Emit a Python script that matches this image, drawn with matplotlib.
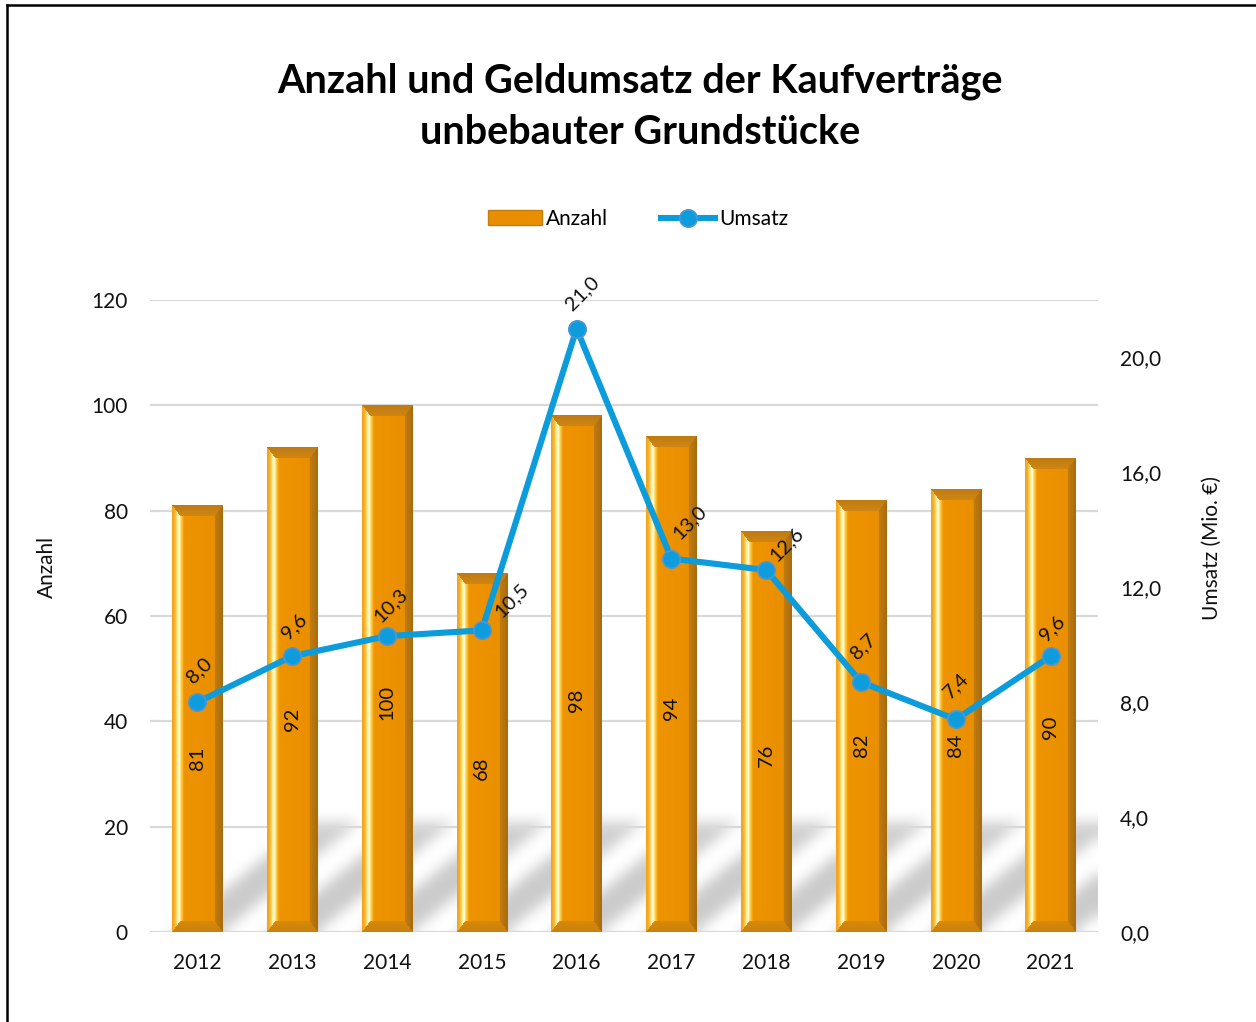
import numpy as np
import matplotlib
matplotlib.use('Agg')
import matplotlib.pyplot as plt
from matplotlib.colors import to_rgb
from matplotlib.lines import Line2D
from matplotlib.patches import Patch

# ---------------- data ----------------
years = ['2012', '2013', '2014', '2015', '2016', '2017', '2018', '2019', '2020', '2021']
anzahl = [81, 92, 100, 68, 98, 94, 76, 82, 84, 90]
umsatz = [8.0, 9.6, 10.3, 10.5, 21.0, 13.0, 12.6, 8.7, 7.4, 9.6]
left_ticks = [0, 20, 40, 60, 80, 100, 120]
right_ticks = [0, 4, 8, 12, 16, 20]
title_lines = ['Anzahl und Geldumsatz der Kaufverträge', 'unbebauter Grundstücke']

# label nudges (pixels) for the line labels, layout only
line_label_dx = [2, 2, 4, 30, 6, 18, 20, 2, 0, 2]
line_label_dy = [32, 30, 31, 30, 35, 36, 26, 36, 34, 28]
bar_label_dy = [-40, -30, -34, -15, -26, -24, -23, -29, -34, -32]

plt.rcParams['font.family'] = ['Lato', 'DejaVu Sans']

W, H = 1256, 1022
fig = plt.figure(figsize=(W / 100, H / 100), dpi=100)
ax = fig.add_axes([150 / W, 1 - 932 / H, 948 / W, 632 / H])
ax2 = ax.twinx()

x = np.arange(len(years))
ax.set_xlim(-0.5, len(years) - 0.5)
ax.set_ylim(0, 120)
ax2.set_ylim(0, 22)

BAR_ORANGE = '#E98E00'
LINE_BLUE = '#0C9CDB'
TXT = '#111111'

# gridlines
ax.set_yticks(left_ticks)
ax.yaxis.grid(True, color='#D9D9D9', linewidth=1.6, zorder=0)
ax.set_axisbelow(True)
for s in ax.spines.values():
    s.set_visible(False)
for s in ax2.spines.values():
    s.set_visible(False)
ax.axhline(0, color='#D9D9D9', linewidth=1.8, zorder=1)

# ---------------- shadows (decoration derived from bar geometry) ----------------
bw = 0.53
shadow_top = 21.0
shift = 1.45
nx, ny = 948, 130
xs = np.linspace(-0.5, len(years) - 0.5, nx)
ys = np.linspace(0, 24.5, ny)
XX, YY = np.meshgrid(xs, ys)
mask = np.zeros_like(XX)
for xi in x:
    off = YY / shadow_top * shift
    inside = (YY <= shadow_top) & (XX >= xi - bw / 2 + off) & (XX <= xi + bw / 2 + off)
    mask = np.maximum(mask, inside.astype(float))


def box_blur(a, r):
    k = np.ones(2 * r + 1) / (2 * r + 1)
    a = np.apply_along_axis(lambda v: np.convolve(np.pad(v, r, mode='edge'), k, mode='valid'), 0, a)
    a = np.apply_along_axis(lambda v: np.convolve(np.pad(v, r, mode='edge'), k, mode='valid'), 1, a)
    return a

for _ in range(2):
    mask = box_blur(mask, 7)
fade = np.clip(1 - (YY / shadow_top) ** 6 * 0.2, 0, 1)
rgba = np.zeros((ny, nx, 4))
rgba[..., :3] = 0.72
rgba[..., 3] = mask * 0.72 * fade
ax.imshow(rgba, extent=(-0.5, len(years) - 0.5, 0, 24.5), origin='lower',
          aspect='auto', zorder=0.5, interpolation='bilinear')

# ---------------- bars ----------------
bars = ax.bar(x, anzahl, width=bw, color=BAR_ORANGE, zorder=2, linewidth=0)
ax.set_xlim(-0.5, len(years) - 0.5)
ax.set_ylim(0, 120)


def interp_colors(f, stops):
    pos = [p for p, _ in stops]
    cols = np.array([to_rgb(c) for _, c in stops])
    return np.stack([np.interp(f, pos, cols[:, k]) for k in range(3)], axis=-1)


left_profile = [(0.0, '#F0A01E'), (0.06, '#F9B42C'), (0.11, '#FFF09A'),
                (0.145, '#FFFFE2'), (0.18, '#FFD046'), (0.24, '#EE9300'), (1.0, '#E98E00')]
right_profile = [(0.0, '#C47D10'), (1.0, '#A86B0C')]


def bar_image(wpx, hpx):
    wpx = max(int(round(wpx)), 4)
    hpx = max(int(round(hpx)), 4)
    J, I = np.meshgrid(np.arange(wpx) + 0.5, np.arange(hpx) + 0.5)
    f = J / wpx
    img = interp_colors(f, left_profile)
    bs = 0.165 * wpx
    bt = 11.0
    dl = J / bs
    dr = (wpx - J) / bs
    dt = I / bt
    db = (hpx - I) / bt
    d = np.stack([dl, dr, dt, db])
    amin = np.argmin(d, axis=0)
    inb = d.min(axis=0) < 1
    rr = interp_colors(np.clip((J - (wpx - bs)) / bs, 0, 1), right_profile)
    top = interp_colors(np.clip(I / bt, 0, 1), [(0.0, '#C07A12'), (1.0, '#CE8614')])
    bot = interp_colors(np.clip((hpx - I) / bt, 0, 1), [(0.0, '#C88010'), (1.0, '#D88A06')])
    img = np.where((inb & (amin == 1))[..., None], rr, img)
    img = np.where((inb & (amin == 2))[..., None], top, img)
    img = np.where((inb & (amin == 3))[..., None], bot, img)
    return img


for p in bars.patches:
    x0, x1 = p.get_x(), p.get_x() + p.get_width()
    h = p.get_height()
    (px0, py0), (px1, py1) = ax.transData.transform([(x0, 0), (x1, h)])
    img = bar_image(px1 - px0, py1 - py0)
    ax.imshow(img, extent=(x0, x1, 0, h), origin='upper', aspect='auto',
              zorder=2.1, interpolation='bilinear')
ax.set_xlim(-0.5, len(years) - 0.5)
ax.set_ylim(0, 120)

# bar value labels
for xi, v, dy in zip(x, anzahl, bar_label_dy):
    ax.annotate(str(v), (xi, v / 2), xytext=(0, dy * 0.72), textcoords='offset points',
                rotation=90, ha='center', va='center', fontsize=14.5, color=TXT, zorder=3)

# ---------------- line ----------------
ax2.plot(x, umsatz, color=LINE_BLUE, linewidth=4.4, marker='o', markersize=12.5,
         markerfacecolor='#0E9CDC', markeredgecolor='#4C97D6', markeredgewidth=1.2,
         zorder=5, solid_capstyle='round')
for xi, v, dx, dy in zip(x, umsatz, line_label_dx, line_label_dy):
    ax2.annotate(f'{v:.1f}'.replace('.', ','), (xi, v), xytext=(dx * 0.72, dy * 0.72),
                 textcoords='offset points', rotation=45, ha='center', va='center',
                 fontsize=14.5, color=TXT, zorder=6)

# ---------------- ticks ----------------
ax.set_xticks(x)
ax.set_xticklabels(years)
ax.tick_params(axis='x', length=0, pad=15, labelsize=15, labelcolor=TXT)
ax.tick_params(axis='y', length=0, pad=16, labelsize=15, labelcolor=TXT)
ax.set_yticklabels([str(t) for t in left_ticks])
ax2.set_yticks(right_ticks)
ax2.set_yticklabels([f'{t:.1f}'.replace('.', ',') for t in right_ticks])
ax2.tick_params(axis='y', length=0, pad=16, labelsize=15, labelcolor=TXT)
ax2.set_ylim(0, 22)

fig.text(47 / W, 1 - 567 / H, 'Anzahl', rotation=90, ha='center', va='center',
         fontsize=15, color=TXT)
fig.text(1212 / W, 1 - 548 / H, 'Umsatz (Mio. €)', rotation=90, ha='center', va='center',
         fontsize=15, color=TXT)

# ---------------- title ----------------
fig.text(640 / W, 1 - 81 / H, title_lines[0], ha='center', va='center',
         fontsize=28.5, fontweight='bold', color='#000000')
fig.text(640 / W, 1 - 133 / H, title_lines[1], ha='center', va='center',
         fontsize=28.5, fontweight='bold', color='#000000')

# ---------------- legend ----------------
h_bar = Patch(facecolor=BAR_ORANGE, edgecolor='#C47D10', linewidth=1)
h_line = Line2D([], [], color=LINE_BLUE, linewidth=4.4, marker='o', markersize=12.5,
                markerfacecolor='#0E9CDC', markeredgecolor='#4C97D6', markeredgewidth=1.2)
fig.legend([h_bar, h_line], ['Anzahl', 'Umsatz'], loc='center',
           bbox_to_anchor=(638 / W, 1 - 219 / H), ncol=2, frameon=False,
           fontsize=15, handlelength=2.6, handleheight=0.7, handletextpad=0.2,
           columnspacing=2.5)

# ---------------- border ----------------
fig.add_artist(Line2D([7 / W, 7 / W], [0, 1 - 5 / H], color='black', linewidth=1.8,
                      transform=fig.transFigure))
fig.add_artist(Line2D([7 / W, 1], [1 - 5 / H, 1 - 5 / H], color='black', linewidth=1.8,
                      transform=fig.transFigure))

fig.savefig('out.png', dpi=100, facecolor='white')
